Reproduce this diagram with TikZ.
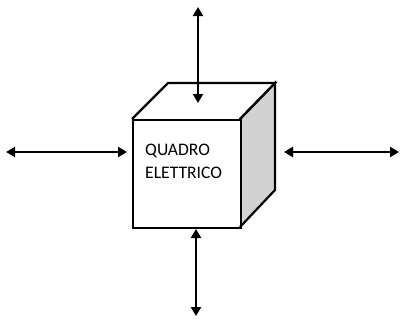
\documentclass[tikz,border=0pt]{standalone}
\usepackage{fontspec}
\setmainfont{Carlito}
\usetikzlibrary{arrows.meta}
\definecolor{sidegray}{RGB}{210,210,210}
\tikzset{
  face/.style={draw=black, line width=2.2pt, line join=miter},
  link/.style={line width=2.2pt, {Triangle[width=10pt,length=9pt]}-{Triangle[width=10pt,length=9pt]}},
}
\begin{document}
\begin{tikzpicture}[x=1pt,y=-1pt]
\useasboundingbox (0,0) rectangle (401,324);
% faces
\fill[sidegray] (240,119) -- (275,83) -- (275,190) -- (240,227) -- cycle;
\draw[face] (132,119) -- (168,83) -- (275,83) -- (240,119);
\draw[face] (240,119) -- (275,83) -- (275,190) -- (240,227);
\node[face, minimum width=108pt, minimum height=108pt, inner sep=0pt, anchor=north west] (front) at (132,119) {};
\node[anchor=west, align=left, font=\fontsize{17.6}{23}\selectfont, inner sep=0pt] (label) at (145,161) {QUADRO\\ELETTRICO};
% arrow ends
\coordinate (t1) at (198,7);
\coordinate (t2) at (198,103);
\coordinate (b1) at (196,229);
\coordinate (b2) at (196,316);
\coordinate (l1) at (6,152);
\coordinate (l2) at (127,152);
\coordinate (r1) at (284,152);
\coordinate (r2) at (399,152);
\draw[link] (t1) -- (t2);
\draw[link] (b1) -- (b2);
\draw[link] (l1) -- (l2);
\draw[link] (r1) -- (r2);
\end{tikzpicture}
\end{document}
